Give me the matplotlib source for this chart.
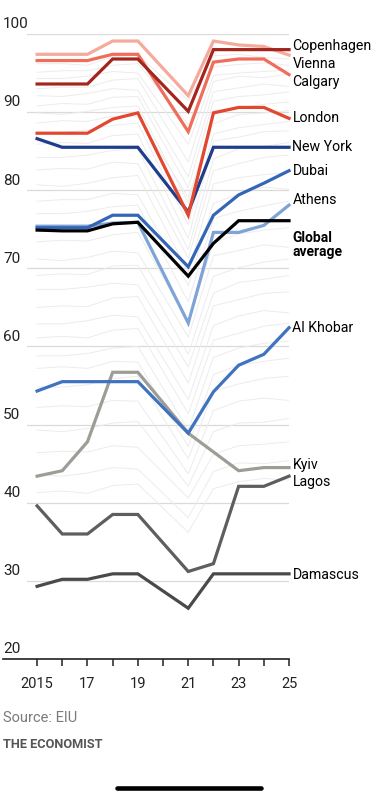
import numpy as np
import pandas as pd
import matplotlib
matplotlib.use('Agg')
import matplotlib.pyplot as plt
from matplotlib.lines import Line2D

plt.rcParams['font.family'] = ['Roboto', 'DejaVu Sans']

# Años del índice (no hubo encuesta en 2020)
anios = [2015, 2016, 2017, 2018, 2019, 2021, 2022, 2023, 2024, 2025]

# Ciudades destacadas
copenhagen = [93.6, 93.6, 93.6, 96.8, 96.8, 90.1, 98.0, 98.0, 98.0, 98.0]
vienna = [97.4, 97.4, 97.4, 99.1, 99.1, 92.1, 99.1, 98.6, 98.4, 97.3]
calgary = [96.6, 96.6, 96.6, 97.4, 97.4, 87.5, 96.4, 96.8, 96.8, 94.8]
london = [87.3, 87.3, 87.3, 89.1, 89.9, 76.8, 89.9, 90.6, 90.6, 89.2]
new_york = [86.6, 85.5, 85.5, 85.5, 85.5, 77.2, 85.5, 85.5, 85.5, 85.5]
dubai = [75.2, 75.2, 75.2, 76.8, 76.8, 70.2, 76.8, 79.4, 80.9, 82.5]
athens = [75.4, 75.4, 75.4, 75.8, 75.9, 63.0, 74.6, 74.6, 75.5, 78.1]
global_avg = [74.9, 74.8, 74.8, 75.7, 75.9, 69.0, 73.2, 76.1, 76.1, 76.1]
al_khobar = [54.3, 55.5, 55.5, 55.5, 55.5, 48.9, 54.2, 57.6, 59.0, 62.4]
kyiv = [43.4, 44.1, 47.8, 56.7, 56.7, 48.9, None, 44.1, 44.5, 44.5]
lagos = [39.6, 36.0, 36.0, 38.5, 38.5, 31.2, 32.2, 42.1, 42.1, 43.4]
damascus = [29.3, 30.2, 30.2, 30.9, 30.9, 26.5, 30.9, 30.9, 30.9, 30.9]

# Resto de ciudades (fondo gris, valores aproximados)
fondo = [
    [96.2, 96.2, 96.0, 97.1, 97.3, 91.5, 97.2, 97.4, 97.0, 96.8],
    [95.1, 95.3, 95.3, 96.0, 96.2, 88.4, 95.8, 96.1, 96.3, 96.0],
    [94.3, 94.3, 94.6, 95.2, 95.0, 85.9, 94.7, 95.0, 95.2, 95.4],
    [93.0, 93.2, 93.2, 94.1, 94.3, 83.6, 93.9, 94.6, 94.4, 94.9],
    [92.1, 92.0, 92.4, 93.0, 92.8, 81.7, 92.6, 93.1, 93.6, 93.3],
    [90.8, 91.1, 91.0, 91.9, 92.0, 80.3, 91.4, 92.0, 92.2, 92.6],
    [89.9, 89.7, 90.1, 90.6, 90.8, 78.4, 90.2, 90.5, 91.0, 91.3],
    [88.6, 88.9, 88.8, 89.5, 89.4, 79.1, 88.5, 89.7, 89.9, 90.2],
    [87.4, 87.4, 87.7, 88.3, 88.6, 75.6, 87.2, 88.0, 88.4, 88.8],
    [85.9, 86.1, 86.0, 87.0, 87.2, 73.8, 86.3, 86.8, 87.5, 87.6],
    [84.2, 84.2, 84.5, 85.1, 85.3, 72.4, 84.0, 85.3, 85.6, 86.1],
    [82.6, 82.8, 82.7, 83.6, 83.4, 71.3, 82.5, 83.4, 84.2, 84.5],
    [80.7, 80.5, 80.9, 81.6, 81.9, 69.5, 80.8, 81.6, 82.0, 82.3],
    [78.6, 78.8, 78.8, 79.6, 79.4, 67.8, 78.3, 79.5, 80.4, 80.1],
    [77.0, 77.0, 77.3, 77.9, 78.1, 65.7, 76.4, 77.3, 78.0, 78.6],
    [73.4, 73.6, 73.5, 74.3, 74.6, 63.1, 73.3, 74.4, 74.9, 75.2],
    [71.2, 71.0, 71.4, 72.2, 72.0, 61.2, 71.6, 72.3, 73.0, 72.7],
    [69.1, 69.3, 69.2, 70.3, 70.4, 59.0, 69.0, 70.1, 70.8, 71.2],
    [67.3, 67.3, 67.6, 68.1, 67.9, 57.4, 66.8, 68.2, 68.6, 69.1],
    [65.0, 65.2, 65.1, 66.2, 66.4, 55.3, 65.2, 66.0, 66.8, 67.0],
    [62.9, 62.9, 63.3, 64.0, 63.8, 53.2, 62.7, 63.9, 64.6, 64.3],
    [61.1, 61.3, 61.1, 62.1, 62.3, 51.4, 60.8, 61.7, 62.6, 63.0],
    [58.8, 58.8, 59.1, 59.8, 60.0, 49.3, 58.6, 59.8, 60.4, 60.7],
    [57.2, 57.4, 57.2, 58.1, 58.0, 47.2, 56.4, 57.6, 58.1, 58.5],
    [54.8, 54.8, 55.1, 55.9, 56.2, 45.6, 54.3, 55.2, 55.9, 56.2],
    [52.2, 52.4, 52.3, 53.1, 53.0, 43.7, 51.8, 53.0, 53.4, 53.1],
    [49.3, 49.1, 49.5, 50.2, 50.4, 42.1, 49.1, 50.2, 50.3, 50.8],
    [46.4, 46.6, 46.5, 47.3, 47.1, 40.6, 46.2, 47.3, 47.5, 47.8],
    [43.6, 43.4, 43.8, 44.5, 44.3, 38.1, 44.0, 45.1, 45.0, 45.4],
    [41.3, 41.5, 41.2, 42.2, 42.4, 36.2, 41.8, 42.7, 43.1, 42.9],
]

destacadas = pd.DataFrame({
    'Copenhagen': copenhagen, 'Vienna': vienna, 'Calgary': calgary,
    'London': london, 'New York': new_york, 'Dubai': dubai,
    'Athens': athens, 'Al Khobar': al_khobar, 'Kyiv': kyiv,
    'Lagos': lagos, 'Damascus': damascus, 'Global average': global_avg,
}, index=anios, dtype=float)

colores = {
    'Copenhagen': '#a3261e', 'Vienna': '#f5aa9c', 'Calgary': '#ef6e5b',
    'London': '#e2472f', 'New York': '#1e3d8c', 'Dubai': '#3465b6',
    'Athens': '#7ea3d6', 'Al Khobar': '#3f72bf', 'Kyiv': '#9d9d96',
    'Lagos': '#5e5e5e', 'Damascus': '#4a4a4a', 'Global average': '#000000',
}

# Posición vertical de cada etiqueta (valor en el eje)
etiquetas = {
    'Copenhagen': 98.5, 'Vienna': 96.2, 'Calgary': 93.9, 'London': 89.3,
    'New York': 85.5, 'Dubai': 82.5, 'Athens': 78.7, 'Global average': 74.8,
    'Al Khobar': 62.4, 'Kyiv': 44.8, 'Lagos': 42.7, 'Damascus': 30.7,
}

fig = plt.figure(figsize=(3.82, 7.98), dpi=100)
ax = fig.add_axes([0.0707, 0.1742, 0.6859, 0.7832])
ax.set_xlim(2014.6, 2025)
ax.set_ylim(20, 100)

# Cuadrícula
for v in range(30, 101, 10):
    ax.axhline(v, color='#dadada', lw=0.9, zorder=0)
    ax.text(-0.091, v + 0.35, str(v), transform=ax.get_yaxis_transform(),
            ha='left', va='bottom', fontsize=11, color='#222222')
ax.text(-0.091, 20.35, '20', transform=ax.get_yaxis_transform(),
        ha='left', va='bottom', fontsize=11, color='#222222')
ax.plot([2013.65, 2025], [20, 20], color='#222222', lw=1.2, clip_on=False, zorder=5)

# Fondo
for fila in fondo:
    ax.plot(anios, fila, color='#ececec', lw=0.7, zorder=1)

orden = ['Kyiv', 'Lagos', 'Damascus', 'Al Khobar', 'Athens', 'Dubai', 'Global average',
         'New York', 'London', 'Vienna', 'Calgary', 'Copenhagen']
for ciudad in orden:
    serie = destacadas[ciudad].dropna()
    ax.plot(serie.index, serie.values, color=colores[ciudad], lw=2.3,
            zorder=3, clip_on=False, solid_joinstyle='miter')

for ciudad, y in etiquetas.items():
    if ciudad == 'Global average':
        ax.text(1.013, y, 'Global\naverage', transform=ax.get_yaxis_transform(),
                ha='left', va='top', fontsize=10, fontweight='bold',
                color='#000000', linespacing=1.0)
    else:
        ax.text(1.013, y, ciudad, transform=ax.get_yaxis_transform(),
                ha='left', va='center', fontsize=10.2, color='#000000')

ax.set_xticks(range(2015, 2026))
ax.set_xticklabels(['2015', '', '17', '', '19', '', '21', '', '23', '', '25'])
ax.tick_params(axis='x', length=5, width=1.1, color='#222222', pad=8,
               labelsize=10.5, labelcolor='#222222')
ax.set_yticks([])
for s in ax.spines.values():
    s.set_visible(False)

fig.text(0.008, 1 - 718 / 798, 'Source: EIU', fontsize=10.5, color='#7a7a7a',
         ha='left', va='center')
fig.text(0.008, 1 - 745 / 798, 'THE ECONOMIST', fontsize=9.2, color='#555555',
         fontweight='bold', ha='left', va='center')

# Barra inferior de la captura
fig.add_artist(Line2D([117 / 382, 261 / 382], [1 - 788 / 798, 1 - 788 / 798],
                      color='black', lw=3.3, solid_capstyle='round'))

fig.savefig('out.png', dpi=100)
